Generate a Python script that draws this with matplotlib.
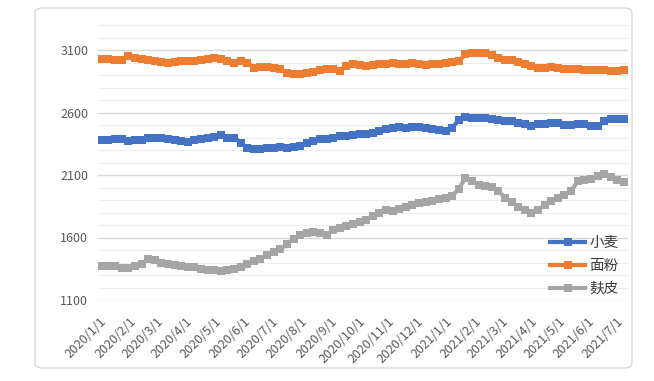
import matplotlib
matplotlib.use('Agg')
import matplotlib.pyplot as plt
import numpy as np
import pandas as pd
from matplotlib.patches import FancyBboxPatch
from matplotlib.ticker import MultipleLocator

plt.rcParams['font.family'] = ['Noto Sans CJK SC', 'DejaVu Sans']

# weekly observation dates
dates = pd.date_range('2020-01-03', periods=80, freq='7D')

wheat = [2381, 2381, 2390, 2390, 2376, 2378, 2382, 2395, 2400, 2393,
         2388, 2378, 2370, 2365, 2378, 2385, 2395, 2405, 2420, 2395,
         2400, 2360, 2315, 2307, 2310, 2315, 2320, 2328, 2318, 2322,
         2333, 2355, 2375, 2385, 2392, 2400, 2410, 2415, 2422, 2428,
         2430, 2440, 2450, 2465, 2478, 2482, 2478, 2482, 2485, 2478,
         2472, 2460, 2455, 2475, 2540, 2565, 2558, 2555, 2553, 2550,
         2540, 2535, 2530, 2520, 2505, 2495, 2505, 2512, 2520, 2518,
         2500, 2498, 2505, 2508, 2495, 2490, 2530, 2545, 2550, 2550]

flour = [3025, 3025, 3020, 3017, 3050, 3035, 3025, 3020, 3015, 3008,
         2995, 3005, 3010, 3010, 3012, 3020, 3030, 3040, 3025, 3010,
         2995, 3010, 3000, 2960, 2965, 2965, 2955, 2945, 2915, 2908,
         2908, 2915, 2925, 2940, 2945, 2950, 2935, 2975, 2985, 2982,
         2972, 2978, 2985, 2990, 2998, 2992, 2985, 2995, 2985, 2978,
         2988, 2990, 2995, 3005, 3010, 3065, 3073, 3073, 3073, 3060,
         3040, 3022, 3018, 3005, 2985, 2975, 2960, 2958, 2965, 2960,
         2950, 2948, 2945, 2940, 2940, 2940, 2940, 2930, 2932, 2940]

bran = [1373, 1373, 1370, 1360, 1355, 1375, 1390, 1430, 1420, 1400,
        1390, 1378, 1372, 1368, 1362, 1350, 1342, 1337, 1336, 1340,
        1350, 1365, 1385, 1410, 1430, 1460, 1485, 1505, 1545, 1590,
        1620, 1640, 1648, 1638, 1622, 1660, 1680, 1695, 1705, 1725,
        1740, 1775, 1800, 1820, 1815, 1830, 1845, 1860, 1875, 1885,
        1895, 1910, 1920, 1935, 1985, 2080, 2050, 2020, 2012, 2005,
        1970, 1920, 1885, 1845, 1820, 1800, 1820, 1860, 1890, 1915,
        1940, 1970, 2050, 2062, 2068, 2095, 2105, 2085, 2060, 2043]

series_names = ['小麦', '面粉', '麸皮']
series_colors = ['#4472C4', '#ED7D31', '#A5A5A5']

tick_labels = ['2020/1/1', '2020/2/1', '2020/3/1', '2020/4/1', '2020/5/1',
               '2020/6/1', '2020/7/1', '2020/8/1', '2020/9/1', '2020/10/1',
               '2020/11/1', '2020/12/1', '2021/1/1', '2021/2/1', '2021/3/1',
               '2021/4/1', '2021/5/1', '2021/6/1', '2021/7/1']

y_major = [1100, 1600, 2100, 2600, 3100]

origin = pd.Timestamp('2020-01-01')
days = np.array((dates - origin).days, dtype=float)
tick_days = [(pd.Timestamp(t.replace('/', '-')) - origin).days for t in tick_labels]

W, H = 654, 381
fig = plt.figure(figsize=(W / 100, H / 100), dpi=100)
fig.patch.set_facecolor('white')

# chart border
border = FancyBboxPatch((35 / W, 13 / H), (632 - 35) / W, 360 / H,
                        boxstyle='round,pad=0,rounding_size=0.012',
                        transform=fig.transFigure, fill=False,
                        edgecolor='#D9D9D9', linewidth=1.0)
fig.patches.append(border)

ax = fig.add_axes([98 / W, 81 / H, 530 / W, 275 / H])
ax.set_xlim(-2.1, 559.3)
ax.set_ylim(1100, 3300)

ax.set_yticks(y_major)
ax.yaxis.set_minor_locator(MultipleLocator(100))
ax.grid(which='major', axis='y', color='#D9D9D9', linewidth=1.0, zorder=0)
ax.grid(which='minor', axis='y', color='#EDEDED', linewidth=0.8, zorder=0)
ax.set_axisbelow(True)
for s in ax.spines.values():
    s.set_visible(False)
ax.tick_params(axis='both', which='both', length=0)
ax.tick_params(axis='y', labelsize=9, labelcolor='#595959', pad=7)

ax.set_xticks(tick_days)
ax.set_xticklabels(tick_labels, rotation=45, ha='right', va='top',
                   rotation_mode='anchor', fontsize=9, color='#595959')
ax.tick_params(axis='x', pad=11)

for vals, name, col in zip([wheat, flour, bran], series_names, series_colors):
    ax.plot(days, vals, color=col, linewidth=3.0, marker='s', markersize=5.5,
            markeredgewidth=0, label=name, solid_joinstyle='miter')

leg = ax.legend(loc='lower right', bbox_to_anchor=(626 / W, (H - 303) / H),
                bbox_transform=fig.transFigure, frameon=False, fontsize=10.5,
                handlelength=2.4, handletextpad=0.3, labelspacing=0.62,
                numpoints=1, borderpad=0, labelcolor='#404040')

fig.savefig('out.png', dpi=100, facecolor='white')
